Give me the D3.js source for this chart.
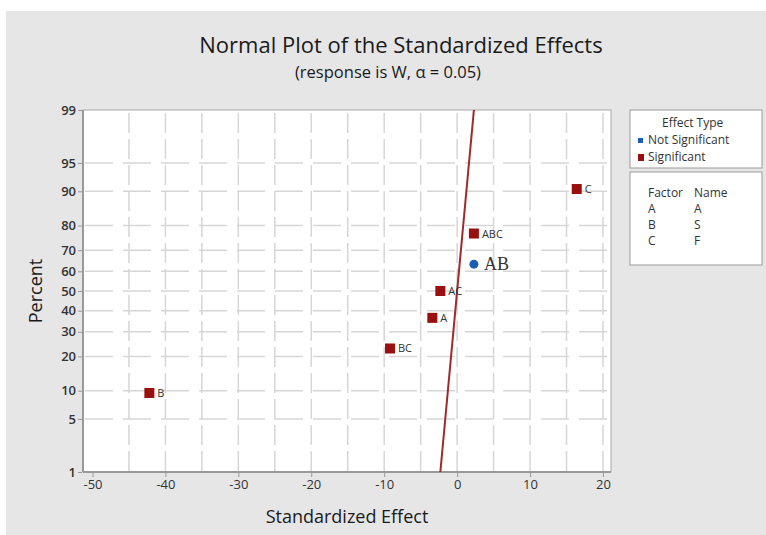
<!DOCTYPE html>
<html lang="en">
<head>
    <meta charset="UTF-8">
    <script src="https://cdnjs.cloudflare.com/ajax/libs/d3/7.8.5/d3.min.js"></script>
    <title>Normal Plot</title>
    <style>
        body { margin: 0; background: #fff; }
        text { font-family: "Open Sans", "Noto Sans", sans-serif; }
    </style>
</head>
<body>
    <script>
        // data
        var effects = ['B', 'BC', 'A', 'AC', 'AB', 'ABC', 'C'];
        var effectValues = [-42.2, -9.2, -3.4, -2.3, 2.3, 2.3, 16.4];
        var effectPercents = [9.5, 23.0, 36.5, 50, 63.5, 77.0, 90.5];
        var effectSignificant = [true, true, true, true, false, true, true];
        var lineEffect = [-2.3, 2.3];
        var linePercent = [1, 99];
        var xTicks = [-50, -40, -30, -20, -10, 0, 10, 20];
        var xGrid = [-45, -40, -35, -30, -25, -20, -15, -10, -5, 0, 5, 10, 15, 20];
        var yTicks = [1, 5, 10, 20, 30, 40, 50, 60, 70, 80, 90, 95, 99];
        var factors = ['A', 'B', 'C'];
        var factorNames = ['A', 'S', 'F'];

        var width = 766, height = 535;
        var pLeft = 83, pRight = 611, pTop = 110, pBottom = 472;

        // inverse normal cdf (Acklam) for the probability axis
        function probit(p) {
            var a = [-39.6968302866538, 220.946098424521, -275.928510446969, 138.357751867269, -30.6647980661472, 2.50662827745924];
            var b = [-54.4760987982241, 161.585836858041, -155.698979859887, 66.8013118877197, -13.2806815528857];
            var c = [-0.00778489400243029, -0.322396458041136, -2.40075827716184, -2.54973253934373, 4.37466414146497, 2.93816398269878];
            var d = [0.00778469570904146, 0.32246712907004, 2.445134137143, 3.75440866190742];
            var q, r;
            if (p < 0.02425) {
                q = Math.sqrt(-2 * Math.log(p));
                return (((((c[0]*q+c[1])*q+c[2])*q+c[3])*q+c[4])*q+c[5]) / ((((d[0]*q+d[1])*q+d[2])*q+d[3])*q+1);
            }
            if (p > 1 - 0.02425) {
                q = Math.sqrt(-2 * Math.log(1 - p));
                return -(((((c[0]*q+c[1])*q+c[2])*q+c[3])*q+c[4])*q+c[5]) / ((((d[0]*q+d[1])*q+d[2])*q+d[3])*q+1);
            }
            q = p - 0.5; r = q * q;
            return (((((a[0]*r+a[1])*r+a[2])*r+a[3])*r+a[4])*r+a[5])*q / (((((b[0]*r+b[1])*r+b[2])*r+b[3])*r+b[4])*r+1);
        }

        var x = d3.scaleLinear().domain([-51.3, 21.1]).range([pLeft, pRight]);
        var zScale = d3.scaleLinear().domain([probit(0.01), probit(0.99)]).range([pBottom, pTop]);
        var y = function(pct) { return zScale(probit(pct / 100)); };

        var svg = d3.select('body').append('svg')
                    .attr('width', width).attr('height', height);

        svg.append('rect').attr('x', 6).attr('y', 11)
            .attr('width', width - 6).attr('height', height - 11)
            .attr('fill', '#e6e6e6');

        svg.append('rect').attr('x', pLeft).attr('y', pTop)
            .attr('width', pRight - pLeft).attr('height', pBottom - pTop)
            .attr('fill', '#fff');

        // grid
        svg.append('g').selectAll('line').data(xGrid).enter().append('line')
            .attr('x1', function(d){ return x(d); }).attr('x2', function(d){ return x(d); })
            .attr('y1', pTop + 3).attr('y2', pBottom)
            .attr('stroke', '#d6d6d6').attr('stroke-width', 1.5)
            .attr('stroke-dasharray', '20,6');
        svg.append('g').selectAll('line').data(yTicks.slice(1, -1)).enter().append('line')
            .attr('x1', pLeft + 2).attr('x2', pRight)
            .attr('y1', function(d){ return y(d); }).attr('y2', function(d){ return y(d); })
            .attr('stroke', '#d6d6d6').attr('stroke-width', 1.5)
            .attr('stroke-dasharray', '28,10');

        // frame
        svg.append('rect').attr('x', pLeft).attr('y', pTop)
            .attr('width', pRight - pLeft).attr('height', pBottom - pTop)
            .attr('fill', 'none').attr('stroke', '#a8a8a8').attr('stroke-width', 1);
        svg.append('line').attr('x1', pLeft).attr('x2', pLeft).attr('y1', pTop).attr('y2', pBottom)
            .attr('stroke', '#999').attr('stroke-width', 2);
        svg.append('line').attr('x1', pLeft).attr('x2', pRight).attr('y1', pBottom).attr('y2', pBottom)
            .attr('stroke', '#999').attr('stroke-width', 2);

        // axes
        var xAxis = d3.axisBottom(x).tickValues(xTicks).tickSize(4).tickPadding(3)
                      .tickFormat(function(d){ return String(d); });
        var gx = svg.append('g').attr('transform', 'translate(0,' + (pBottom + 1) + ')').call(xAxis);
        gx.select('.domain').remove();
        gx.selectAll('line').attr('stroke', '#999');
        gx.selectAll('text').attr('font-size', 13).attr('fill', '#333');

        var yAxis = d3.axisLeft(zScale).tickValues(yTicks.map(function(p){ return probit(p / 100); }))
                      .tickFormat(function(d, i){ return yTicks[i]; }).tickSize(4).tickPadding(2);
        var gy = svg.append('g').attr('transform', 'translate(' + (pLeft - 1) + ',0)').call(yAxis);
        gy.select('.domain').remove();
        gy.selectAll('line').attr('stroke', '#999');
        gy.selectAll('text').attr('font-size', 13).attr('font-weight', 600).attr('fill', '#333');

        // reference line
        svg.append('line')
            .attr('x1', x(lineEffect[0])).attr('y1', y(linePercent[0]))
            .attr('x2', x(lineEffect[1])).attr('y2', y(linePercent[1]))
            .attr('stroke', '#9e2a2a').attr('stroke-width', 2);

        // points
        var pts = effects.map(function(e, i){
            return {name: e, v: effectValues[i], p: effectPercents[i], sig: effectSignificant[i]};
        });
        svg.append('g').selectAll('rect').data(pts.filter(function(d){ return d.sig; })).enter()
            .append('rect')
            .attr('x', function(d){ return x(d.v) - 5; }).attr('y', function(d){ return y(d.p) - 5; })
            .attr('width', 10).attr('height', 10).attr('fill', '#9a0f0f');
        svg.append('g').selectAll('circle').data(pts.filter(function(d){ return !d.sig; })).enter()
            .append('circle')
            .attr('cx', function(d){ return x(d.v); }).attr('cy', function(d){ return y(d.p); })
            .attr('r', 4.5).attr('fill', '#1a5fb4');

        svg.append('g').selectAll('text').data(pts).enter().append('text')
            .attr('x', function(d){ return x(d.v) + (d.sig ? 8 : 10); })
            .attr('y', function(d){ return y(d.p) + (d.sig ? 4 : 6); })
            .attr('font-size', function(d){ return d.sig ? 11 : 18; })
            .style('font-family', function(d){ return d.sig ? null : '"Liberation Serif", serif'; })
            .attr('fill', '#333')
            .text(function(d){ return d.name; });

        // titles
        svg.append('text').attr('x', 401).attr('y', 53).attr('text-anchor', 'middle')
            .attr('font-size', 22).attr('font-weight', 500).attr('fill', '#1a1a1a')
            .text('Normal Plot of the Standardized Effects');
        svg.append('text').attr('x', 388).attr('y', 78).attr('text-anchor', 'middle')
            .attr('font-size', 16.5).attr('fill', '#1a1a1a')
            .text('(response is W, α = 0.05)');
        svg.append('text').attr('x', 347).attr('y', 523).attr('text-anchor', 'middle')
            .attr('font-size', 18).attr('fill', '#1a1a1a').text('Standardized Effect');
        svg.append('text').attr('transform', 'translate(42,' + ((pTop + pBottom) / 2) + ') rotate(-90)')
            .attr('text-anchor', 'middle').attr('font-size', 18).attr('fill', '#1a1a1a').text('Percent');

        // legend: effect type
        var lg = svg.append('g').attr('transform', 'translate(630,110)');
        lg.append('rect').attr('width', 132).attr('height', 58)
            .attr('fill', '#fff').attr('stroke', '#999');
        lg.append('text').attr('x', 32).attr('y', 17).attr('font-size', 12).attr('fill', '#333').text('Effect Type');
        lg.append('rect').attr('x', 8).attr('y', 28).attr('width', 5).attr('height', 5).attr('fill', '#1a5fb4');
        lg.append('text').attr('x', 18).attr('y', 34).attr('font-size', 12).attr('fill', '#333').text('Not Significant');
        lg.append('rect').attr('x', 8).attr('y', 44).attr('width', 6).attr('height', 7).attr('fill', '#9a0f0f');
        lg.append('text').attr('x', 18).attr('y', 51).attr('font-size', 12).attr('fill', '#333').text('Significant');

        // legend: factor names
        var fg = svg.append('g').attr('transform', 'translate(630,172)');
        fg.append('rect').attr('width', 132).attr('height', 93)
            .attr('fill', '#fff').attr('stroke', '#999');
        fg.append('text').attr('x', 18).attr('y', 25).attr('font-size', 12).attr('fill', '#333').text('Factor');
        fg.append('text').attr('x', 64).attr('y', 25).attr('font-size', 12).attr('fill', '#333').text('Name');
        fg.selectAll('.f').data(factors).enter().append('text')
            .attr('x', 18).attr('y', function(d, i){ return 41 + i * 16; })
            .attr('font-size', 12).attr('fill', '#333').text(function(d){ return d; });
        fg.selectAll('.n').data(factorNames).enter().append('text')
            .attr('x', 64).attr('y', function(d, i){ return 41 + i * 16; })
            .attr('font-size', 12).attr('fill', '#333').text(function(d){ return d; });
    </script>
</body>
</html>
